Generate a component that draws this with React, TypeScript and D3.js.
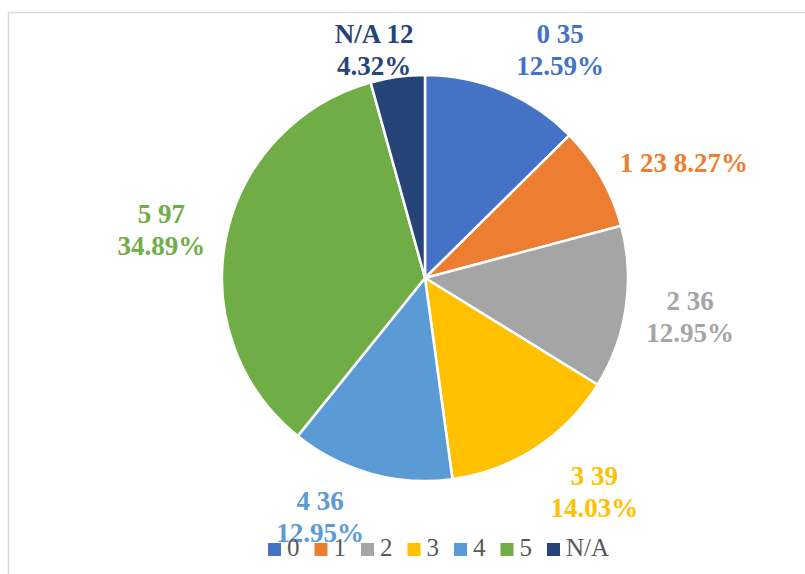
import React from "react";
import * as d3 from "d3";

const categories = ["0", "1", "2", "3", "4", "5", "N/A"];
const values = [35, 23, 36, 39, 36, 97, 12];
const colors = ["#4472C4", "#ED7D31", "#A5A5A5", "#FFC000", "#5B9BD5", "#70AD47", "#264478"];
// label layout: nudges from the mid-angle point at labelRadius, and whether split into two lines
const labelNudges: [number, number][] = [
  [33, 17],
  [29, 17],
  [3, 0],
  [25, -8],
  [-34, -16],
  [-4, 6],
  [-15, 35],
];
const labelTwoLines = [true, false, true, true, true, true, true];

const W = 805;
const H = 574;
const cx = 425;
const cy = 278;
const R = 203;
const labelR = 265;
const FONT = "'Liberation Serif', 'Times New Roman', serif";

export default function App() {
  const total = d3.sum(values);
  const pie = d3.pie<number>().sort(null).value((d) => d);
  const arcs = pie(values);
  const arcGen = d3.arc<d3.PieArcDatum<number>>().innerRadius(0).outerRadius(R);
  const labelArc = d3.arc<d3.PieArcDatum<number>>().innerRadius(labelR).outerRadius(labelR);

  const legendX0 = 268;
  const legendY = 543;
  const legendW = categories.map((c) => (c === "N/A" ? 80 : 46.5));
  const legendXs: number[] = [];
  let acc = legendX0;
  legendW.forEach((w) => {
    legendXs.push(acc);
    acc += w;
  });

  return (
    <svg
      width={W}
      height={H}
      style={{ position: "absolute", left: 0, top: 0, background: "#fff" }}
    >
      <rect x={8.5} y={12.5} width={W} height={H} fill="#fff" stroke="#d9d9d9" strokeWidth={1.5} />
      <g transform={`translate(${cx},${cy})`}>
        {arcs.map((a, i) => (
          <path key={i} d={arcGen(a) || ""} fill={colors[i]} stroke="#fff" strokeWidth={2.5} strokeLinejoin="round" />
        ))}
      </g>
      {arcs.map((a, i) => {
        const [lx, ly] = labelArc.centroid(a);
        const x = cx + lx + labelNudges[i][0];
        const y = cy + ly + labelNudges[i][1];
        const pct = ((values[i] / total) * 100).toFixed(2) + "%";
        const first = `${categories[i]} ${values[i]}`;
        if (labelTwoLines[i]) {
          return (
            <text key={i} x={x} textAnchor="middle" fontFamily={FONT} fontWeight="bold" fontSize={27} fill={colors[i]}>
              <tspan x={x} y={y - 7}>{first}</tspan>
              <tspan x={x} y={y + 25}>{pct}</tspan>
            </text>
          );
        }
        return (
          <text key={i} x={x} y={y + 9} textAnchor="middle" fontFamily={FONT} fontWeight="bold" fontSize={27} fill={colors[i]}>
            {`${first} ${pct}`}
          </text>
        );
      })}
      {categories.map((c, i) => (
        <g key={c} transform={`translate(${legendXs[i]},${legendY})`}>
          <rect x={0} y={0} width={13} height={13} fill={colors[i]} />
          <text x={19} y={13} fontFamily={FONT} fontSize={25} fill="#595959">
            {c}
          </text>
        </g>
      ))}
    </svg>
  );
}
